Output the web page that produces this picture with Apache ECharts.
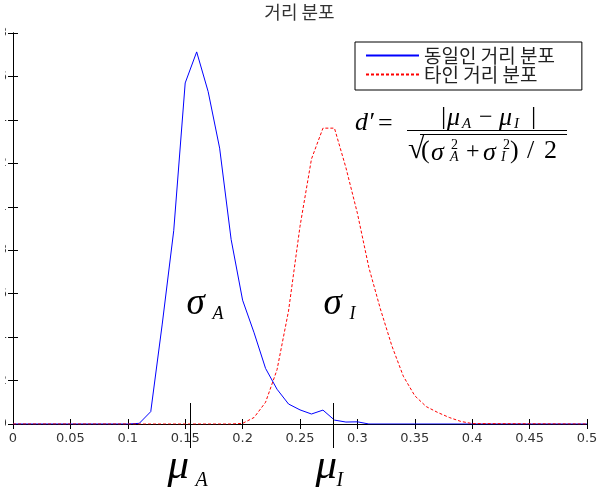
<!DOCTYPE html>
<html>
<head>
<meta charset="utf-8">
<script src="https://cdn.jsdelivr.net/npm/echarts@6/dist/echarts.min.js"></script>
<style>
  html, body { margin: 0; padding: 0; background: #fff; }
  #main { width: 599px; height: 493px; }
</style>
</head>
<body>
<div id="main"></div>
<script>
// 동일인 거리 분포 (파란 실선)
const genuineX = [0, 0.10, 0.11, 0.12, 0.13, 0.14, 0.15, 0.16, 0.17, 0.18, 0.19, 0.20, 0.21, 0.22, 0.23, 0.24, 0.25, 0.26, 0.27, 0.28, 0.29, 0.30, 0.31, 0.5]
const genuineY = [0, 0, 0.0003, 0.0057, 0.046, 0.089, 0.157, 0.1713, 0.153, 0.127, 0.085, 0.057, 0.042, 0.0256, 0.016, 0.0092, 0.0065, 0.0046, 0.0064, 0.0018, 0.0009, 0.001, 0, 0]
// 타인 거리 분포 (빨간 점선)
const impostorX = [0, 0.19, 0.20, 0.21, 0.22, 0.23, 0.24, 0.25, 0.26, 0.27, 0.28, 0.29, 0.30, 0.31, 0.32, 0.33, 0.34, 0.35, 0.36, 0.37, 0.38, 0.39, 0.40, 0.5]
const impostorY = [0, 0, 0.0003, 0.003, 0.010, 0.025, 0.052, 0.091, 0.122, 0.1362, 0.1362, 0.118, 0.097, 0.072, 0.053, 0.036, 0.022, 0.013, 0.008, 0.0053, 0.003, 0.0012, 0.0002, 0]

const seriesNames = ['동일인 거리 분포', '타인 거리 분포']
const xTickLabels = ['0', '0.05', '0.1', '0.15', '0.2', '0.25', '0.3', '0.35', '0.4', '0.45', '0.5']
const yTickLabels = ['0', '0.02', '0.04', '0.06', '0.08', '0.1', '0.12', '0.14', '0.16', '0.18']
const means = [0.154, 0.279]
const meanSubs = ['A', 'I']

const serif = '"Liberation Serif", "Times New Roman", serif'
const tickStyle = { show: true, inside: true, length: 5, lineStyle: { color: '#000', width: 1 } }
const lineAxis = { show: true, lineStyle: { color: '#000', width: 1 } }

const chart = echarts.init(document.getElementById('main'))

const option = {
  animation: false,
  backgroundColor: '#fff',
  title: {
    text: '거리 분포',
    left: 'center',
    top: -2,
    textStyle: { fontSize: 18, fontWeight: 'normal', color: '#333', fontFamily: 'Noto Sans CJK KR' }
  },
  legend: {
    orient: 'vertical',
    left: 355,
    top: 42,
    itemWidth: 53,
    itemHeight: 14,
    itemGap: 0,
    padding: [4, 27, 6, 10],
    borderColor: '#000',
    borderWidth: 1,
    borderRadius: 0,
    backgroundColor: '#fff',
    selectedMode: false,
    itemStyle: { opacity: 0 },
    textStyle: { fontSize: 19, lineHeight: 18, fontFamily: 'Noto Sans CJK KR', color: '#222' }
  },
  grid: { left: 13, right: 12, top: 33, bottom: 69, containLabel: false, outerBoundsMode: 'none' },
  xAxis: [{
    type: 'value', min: 0, max: 0.5, interval: 0.05, position: 'bottom',
    axisLine: lineAxis, axisTick: tickStyle, splitLine: { show: false },
    axisLabel: {
      margin: 8, fontSize: 13, color: '#333', fontFamily: 'DejaVu Sans',
      formatter: (v, i) => xTickLabels[i]
    }
  }, {
    type: 'value', min: 0, max: 0.5, interval: 0.05, position: 'top',
    axisLine: lineAxis, axisTick: tickStyle, splitLine: { show: false },
    axisLabel: { show: false }
  }],
  yAxis: [{
    type: 'value', min: 0, max: 0.18, interval: 0.02, position: 'left',
    axisLine: lineAxis, axisTick: tickStyle, splitLine: { show: false },
    axisLabel: {
      margin: 6, fontSize: 12, color: '#333', fontFamily: 'DejaVu Sans',
      formatter: (v, i) => yTickLabels[i]
    }
  }, {
    type: 'value', min: 0, max: 0.18, interval: 0.02, position: 'right',
    axisLine: lineAxis, axisTick: tickStyle, splitLine: { show: false },
    axisLabel: { show: false }
  }],
  series: [{
    name: seriesNames[0],
    type: 'line',
    symbol: 'none',
    data: genuineX.map((x, i) => [x, genuineY[i]]),
    lineStyle: { color: '#0000ff', width: 1 },
    itemStyle: { color: '#0000ff' }
  }, {
    name: seriesNames[1],
    type: 'line',
    symbol: 'none',
    data: impostorX.map((x, i) => [x, impostorY[i]]),
    lineStyle: { color: '#ff0000', width: 1, type: [3, 2] },
    itemStyle: { color: '#ff0000' }
  }]
}
chart.setOption(option)

// 수식과 기호 주석
function tx(x, y, text, size, italic) {
  return {
    type: 'text', x: x, y: y, silent: true, z: 50,
    style: {
      text: text, font: (italic ? 'italic ' : '') + size + 'px ' + serif,
      fill: '#000', textAlign: 'left', textVerticalAlign: 'middle', align: 'left', verticalAlign: 'middle'
    }
  }
}
function ln(x1, y1, x2, y2) {
  return { type: 'line', silent: true, z: 50, shape: { x1: x1, y1: y1, x2: x2, y2: y2 }, style: { stroke: '#000', lineWidth: 1 } }
}

const graphics = [
  // 왼쪽에 잘린 y축 눈금 글자
  { type: 'rect', z: 100, silent: true, shape: { x: 0, y: 0, width: 5, height: 493 }, style: { fill: '#fff' } },
  // d' = |μA − μI| / sqrt((σA² + σI²)/2)
  tx(355, 123, 'd′', 26, true),
  tx(378, 124, '=', 26, false),
  ln(407, 130.5, 567, 130.5),
  tx(441, 117, '|', 26, false),
  tx(447, 118, 'μ', 26, true),
  tx(462, 124, 'A', 15, true),
  tx(479, 118, '−', 24, false),
  tx(499, 118, 'μ', 26, true),
  tx(514, 124, 'I', 15, true),
  tx(531, 117, '|', 26, false),
  tx(408, 150, '√', 30, false),
  ln(420, 134.5, 567, 134.5),
  tx(421, 151, '(', 26, false),
  tx(431, 153, 'σ', 26, true),
  tx(451, 145, '2', 14, false),
  tx(450, 157, 'A', 14, true),
  tx(466, 152, '+', 24, false),
  tx(483, 153, 'σ', 26, true),
  tx(503, 145, '2', 14, false),
  tx(501, 157, 'I', 14, true),
  tx(510, 151, ')', 26, false),
  tx(527, 151, '/', 26, false),
  tx(544, 151, '2', 26, false)
]

means.forEach((m, i) => {
  const p = chart.convertToPixel({ gridIndex: 0 }, [m, 0])
  const px = Math.round(p[0]) + 0.5
  graphics.push(ln(px, p[1] - 21, px, p[1] + 24))
  const sOff = i === 0 ? -4 : -10
  graphics.push(tx(px + sOff, 304, 'σ', 37, true))
  graphics.push(tx(px + sOff + 26, 314, meanSubs[i], 18, true))
  const mOff = i === 0 ? -23 : -18
  graphics.push(tx(px + mOff, 467, 'μ', 43, true))
  graphics.push(tx(px + mOff + (i === 0 ? 28 : 21), 481, meanSubs[i], 20, true))
})

chart.setOption({ graphic: graphics })
</script>
</body>
</html>
